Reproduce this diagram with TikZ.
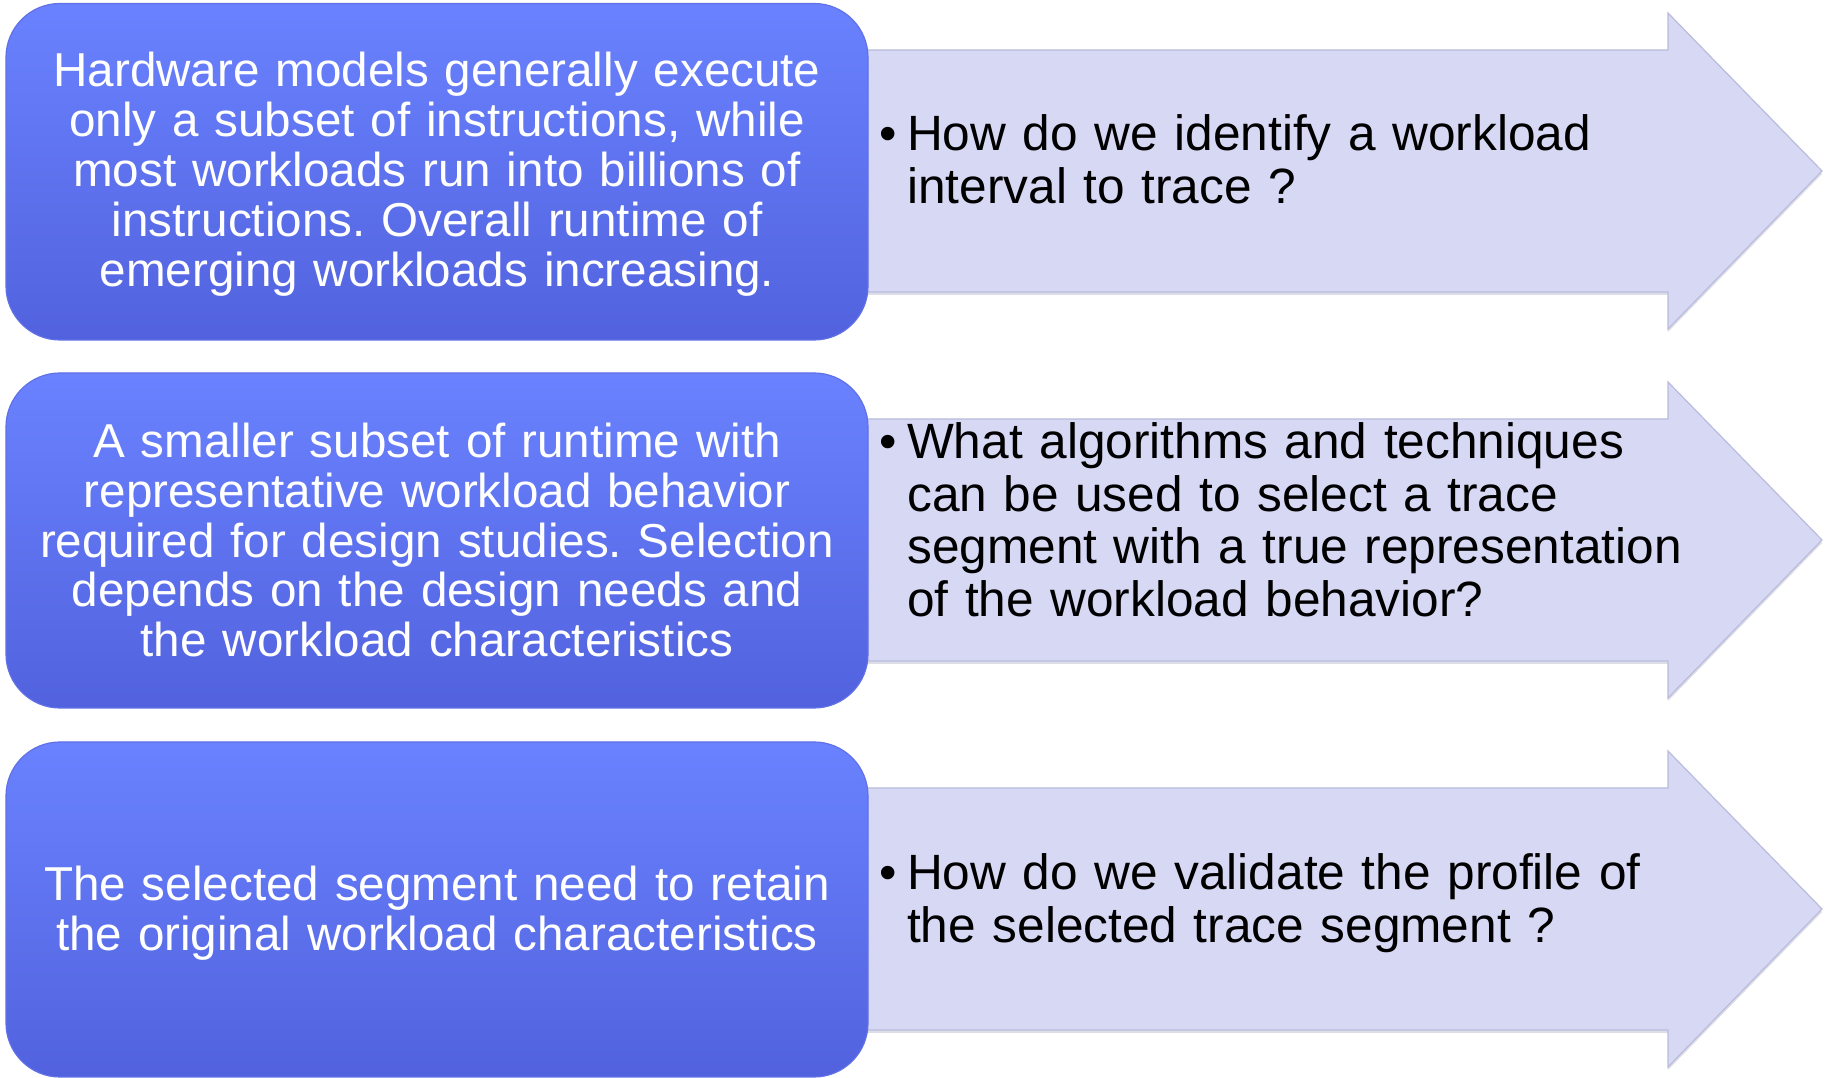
\documentclass[tikz,border=0pt]{standalone}
\usepackage{fontspec}
\setmainfont{Liberation Sans}
\frenchspacing
\definecolor{boxtop}{RGB}{106,130,255}
\definecolor{boxbot}{RGB}{82,98,222}
\definecolor{boxedge}{RGB}{96,112,230}
\definecolor{arrowfill}{RGB}{214,216,244}
\definecolor{arrowedge}{RGB}{186,188,220}
\definecolor{arrowshade}{RGB}{160,160,190}
\begin{document}
\begin{tikzpicture}[x=1pt,y=1pt,
  bluebox/.style={rounded corners=54pt, top color=boxtop, bottom color=boxbot, draw=boxedge, line width=1.2pt},
  fatarrow/.style={fill=arrowfill, draw=arrowedge, line width=1.2pt},
  arrowshadow/.style={fill=arrowshade, opacity=0.35},
  boxtext/.style={text=white, align=center, text width=840pt, inner sep=0pt, anchor=base,
    font=\fontsize{47.6}{49.8}\selectfont},
  asktext/.style={text=black, align=left, text width=900pt, inner sep=0pt, anchor=base west,
    font=\fontsize{49.6}{52.4}\selectfont}
]
\useasboundingbox (0,0) rectangle (1826,1078);
\fill[white] (0,0) rectangle (1826,1078);

% three broad arrows behind the boxes
\foreach \c in {907,538,169}{
  \fill[arrowshadow] (860,\c-124) -- (1668,\c-124) -- (1668,\c-161) -- (1822,\c-3)
     -- (1668,\c+155) -- (1668,\c+118) -- (860,\c+118) -- cycle;
  \draw[fatarrow] (860,\c+121) -- (1668,\c+121) -- (1668,\c+158) -- (1822,\c)
     -- (1668,\c-158) -- (1668,\c-121) -- (860,\c-121) -- cycle;
}

% rounded boxes on the left
\draw[bluebox] (6,738) rectangle (868,1074.5);
\draw[bluebox] (6,370) rectangle (868,705);
\draw[bluebox] (6,1) rectangle (868,336);

% box texts
\node[boxtext] (b1) at (437,991) {Hardware models generally execute\\only a subset of instructions, while\\most workloads run into billions of\\instructions. Overall runtime of\\emerging workloads increasing.};
\node[boxtext] (b2) at (437,620.4) {A smaller subset of runtime with\\representative workload behavior\\required for design studies. Selection\\depends on the design needs and\\the workload characteristics};
\node[boxtext] (b3) at (437,177) {The selected segment need to retain\\the original workload characteristics};

% questions inside the arrows
\node[asktext] (q1) at (907,927) {\llap{•\hspace{10pt}}How do we identify a workload\\interval to trace ?};
\node[asktext] (q2) at (907,619) {\llap{•\hspace{10pt}}What algorithms and techniques\\can be used to select a trace\\segment with a true representation\\of the workload behavior?};
\node[asktext] (q3) at (907,188) {\llap{•\hspace{10pt}}How do we validate the profile of\\the selected trace segment ?};
\end{tikzpicture}
\end{document}
